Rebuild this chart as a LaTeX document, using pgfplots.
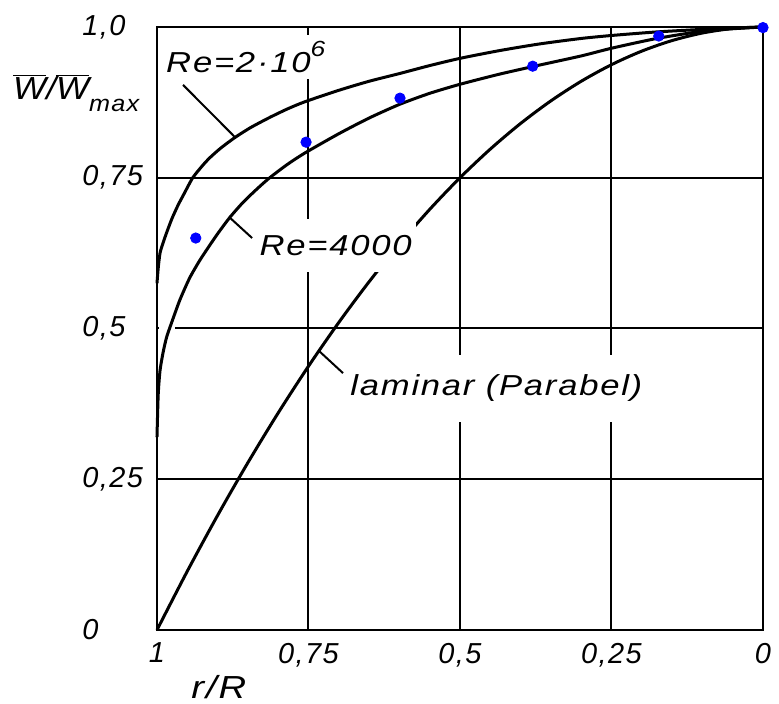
\documentclass[border=0pt]{standalone}
\usepackage{fontspec}
\usepackage{graphicx}
\setmainfont{Liberation Sans}
\newfontfamily\lab[LetterSpace=5]{Liberation Sans}
\newfontfamily\tck[LetterSpace=5]{Liberation Sans}
\usepackage{pgfplots}
\pgfplotsset{compat=1.18}
\newcommand{\fs}{\fontsize{14.5}{16}\selectfont\itshape}
\newcommand{\wide}[1]{\scalebox{1.2}[1]{#1}}
\begin{document}
\begin{tikzpicture}
\useasboundingbox (-78.5bp,-37bp) rectangle (311bp,315bp);
\begin{axis}[
  at={(0,0)}, anchor=south west,
  scale only axis, width=303bp, height=301.5bp,
  xmin=0, xmax=1, ymin=0, ymax=1, x dir=reverse,
  clip=false,
  axis line style={line width=1bp},
  grid=major, grid style={black, line width=1bp},
  major tick length=0pt,
  xtick={0,0.25,0.5,0.75,1}, xticklabels={0,{0,25},{0,5},{0,75},1},
  ytick={0,0.25,0.5,0.75,1}, yticklabels={0,{0,25},{0,5},{0,75},{1,0}},
  ticklabel style={font=\tck\fs},
  xticklabel style={yshift=-3bp},
  yticklabel style={anchor=west, inner sep=0pt, xshift=-37.5bp},
]
\fill[white] (axis cs:0.996,0.49) rectangle (axis cs:0.97,0.51);
% Re = 2e6
\addplot[black, line width=1.5bp, smooth, tension=0.4] coordinates {
(1,0.575) (0.998,0.600) (0.995,0.625) (0.990,0.642) (0.983,0.662) (0.975,0.683)
(0.965,0.705) (0.955,0.724) (0.941,0.750) (0.925,0.770) (0.913,0.783) (0.895,0.799)
(0.871,0.817) (0.845,0.8335) (0.814,0.850) (0.785,0.864) (0.756,0.876) (0.70,0.895)
(0.65,0.910) (0.599,0.923) (0.55,0.936) (0.5,0.948) (0.434,0.961) (0.368,0.972)
(0.30,0.981) (0.249,0.986) (0.18,0.9915) (0.12,0.995) (0.06,0.998) (0,1)};
% Re = 4000
\addplot[black, line width=1.5bp, smooth, tension=0.4] coordinates {
(1,0.32) (0.998,0.39) (0.995,0.43) (0.990,0.46) (0.984,0.486) (0.974,0.515)
(0.962,0.548) (0.946,0.584) (0.930,0.612) (0.917,0.632) (0.900,0.657) (0.880,0.684)
(0.860,0.707) (0.846,0.721) (0.830,0.736) (0.814,0.750) (0.785,0.772) (0.756,0.791)
(0.70,0.823) (0.65,0.849) (0.599,0.872) (0.55,0.890) (0.5,0.905) (0.434,0.922)
(0.368,0.937) (0.30,0.952) (0.249,0.965) (0.175,0.981) (0.092,0.994) (0,1)};
% laminar
\addplot[black, line width=1.5bp, smooth] coordinates {
(1,0) (0.95,0.0975) (0.9,0.19) (0.85,0.2775) (0.8,0.36) (0.75,0.4375) (0.7,0.51)
(0.65,0.5775) (0.6,0.64) (0.55,0.6975) (0.5,0.75) (0.45,0.7975) (0.4,0.84)
(0.35,0.8775) (0.3,0.91) (0.25,0.9375) (0.2,0.96) (0.15,0.9775) (0.1,0.99)
(0.05,0.9975) (0,1)};
% measured points
\addplot[only marks, mark=*, blue, mark options={draw=blue, fill=blue}, mark size=2.6bp] coordinates {
(0.936,0.650) (0.754,0.809) (0.599,0.882) (0.380,0.935) (0.172,0.985) (0.0,0.999)};
% labels
\node[anchor=west, fill=white, inner xsep=2bp, inner ysep=3bp, font=\lab\fs] at (axis cs:0.992,0.950) {\wide{Re=2·10\raisebox{0.55em}{\fontsize{11}{11}\selectfont 6}}};
\draw[line width=1bp] (axis cs:0.957,0.904) -- (axis cs:0.871,0.817);
\node[anchor=west, fill=white, inner xsep=2bp, inner ysep=8bp, font=\lab\fs] at (axis cs:0.838,0.638) {\wide{Re=4000}};
\draw[line width=1bp] (axis cs:0.880,0.684) -- (axis cs:0.843,0.650);
\node[anchor=west, fill=white, inner xsep=2bp, inner ysep=10bp, font=\lab\fs] at (axis cs:0.688,0.401) {\wide{laminar (Parabel)}};
\draw[line width=1bp] (axis cs:0.734,0.464) -- (axis cs:0.693,0.426);
\node[anchor=base west, inner sep=0pt, font=\lab\fontsize{16}{18}\selectfont\itshape] at (axis cs:1.238,0.879) {\scalebox{1.1}[1]{$\overline{\mbox{\lab\fontsize{16}{18}\selectfont\itshape W}}$/$\overline{\mbox{\lab\fontsize{16}{18}\selectfont\itshape W}}$\raisebox{-0.35em}{\lab\fontsize{11.5}{12}\selectfont\itshape max}}};
\node[font=\lab\fontsize{16}{18}\selectfont\itshape] at (axis cs:0.898,-0.0945) {\wide{r/R}};
\end{axis}
\end{tikzpicture}
\end{document}
